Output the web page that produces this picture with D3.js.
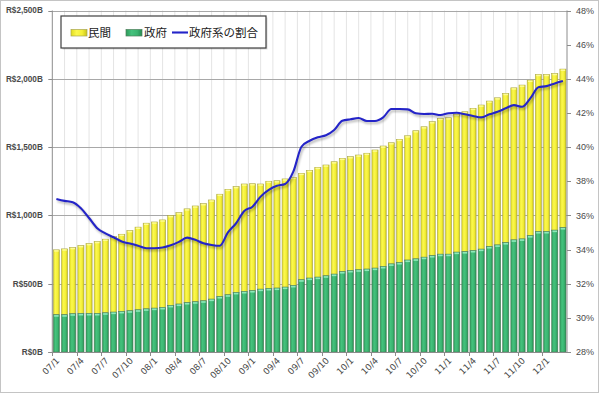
<!DOCTYPE html>
<html lang="ja">
<head>
<meta charset="UTF-8">
<title>民間・政府</title>
<script src="https://d3js.org/d3.v7.min.js"></script>
<style>
  body { margin: 0; background: #fff; }
  svg text { font-family: "Liberation Sans", Arial, sans-serif; }
</style>
</head>
<body>
<div id="chart"></div>
<script>
const width = 599;
const height = 393;

// months 2007/1 .. 2012/3
const months = [
  "07/1","07/2","07/3","07/4","07/5","07/6","07/7","07/8","07/9","07/10","07/11","07/12",
  "08/1","08/2","08/3","08/4","08/5","08/6","08/7","08/8","08/9","08/10","08/11","08/12",
  "09/1","09/2","09/3","09/4","09/5","09/6","09/7","09/8","09/9","09/10","09/11","09/12",
  "10/1","10/2","10/3","10/4","10/5","10/6","10/7","10/8","10/9","10/10","10/11","10/12",
  "11/1","11/2","11/3","11/4","11/5","11/6","11/7","11/8","11/9","11/10","11/11","11/12",
  "12/1","12/2","12/3"
];

// 政府 (R$ billion)
const government = [
  273,273,280,282,282,282,287,292,297,302,309,316,
  321,326,341,351,362,368,375,387,406,419,436,443,
  450,460,465,468,475,487,529,541,548,558,570,589,
  597,602,607,614,626,645,655,673,682,694,706,716,
  716,731,735,743,753,772,784,801,821,828,852,882,
  882,892,911
];

// 民間 (R$ billion)
const privateSector = [
  475,482,485,497,512,527,539,553,565,587,605,627,
  631,641,658,669,686,701,711,726,749,772,775,787,
  782,770,785,786,792,792,779,789,804,811,823,829,
  833,840,848,865,882,887,902,910,938,955,980,995,
  999,1009,1024,1041,1055,1065,1077,1092,1113,1126,1138,1150,
  1150,1147,1160
];

// 政府系の割合 (%)
const govShare = [
  36.96,36.85,36.77,36.42,35.85,35.25,34.95,34.72,34.47,34.35,34.22,34.08,
  34.08,34.12,34.25,34.45,34.70,34.57,34.37,34.27,34.22,35.00,35.54,36.26,
  36.51,37.10,37.49,37.73,37.84,38.56,40.02,40.37,40.57,40.69,41.00,41.54,
  41.63,41.70,41.53,41.53,41.74,42.23,42.23,42.21,41.98,41.94,41.95,41.88,
  41.98,42.01,41.92,41.82,41.74,41.92,42.07,42.27,42.46,42.36,42.85,43.50,
  43.57,43.73,43.87
];

const leftTicks = [0, 500, 1000, 1500, 2000, 2500];
const rightTicks = [28, 30, 32, 34, 36, 38, 40, 42, 44, 46, 48];
const labelMonths = ["1", "4", "7", "10"];

const margin = {top: 10.5, right: 32, bottom: 41, left: 52.3};
const x0 = margin.left, x1 = width - margin.right;
const y0 = height - margin.bottom, y1 = margin.top;

const data = months.map((m, i) => ({
  month: m,
  gov: government[i],
  priv: privateSector[i],
  share: govShare[i]
}));

const x = d3.scaleBand().domain(months).range([x0, x1])
  .paddingInner(0.25).paddingOuter(0.125);
const y = d3.scaleLinear().domain([0, 2500]).range([y0, y1]);
const y2 = d3.scaleLinear().domain([28, 48]).range([y0, y1]);

const svg = d3.select("#chart").append("svg")
  .attr("width", width)
  .attr("height", height);

// gradients for the bars
const defs = svg.append("defs");
function hGrad(id, stops) {
  const g = defs.append("linearGradient").attr("id", id)
    .attr("x1", "0%").attr("x2", "100%").attr("y1", "0%").attr("y2", "0%");
  stops.forEach(s => g.append("stop").attr("offset", s[0]).attr("stop-color", s[1]));
}
hGrad("gYellow", [["0%", "#e2dc1e"], ["35%", "#fbf84e"], ["70%", "#f4ef36"], ["100%", "#c9c31a"]]);
hGrad("gGreen", [["0%", "#2c9a5a"], ["35%", "#45c27d"], ["70%", "#3bb571"], ["100%", "#268a50"]]);
defs.append("filter").attr("id", "shadow")
  .append("feGaussianBlur").attr("stdDeviation", 0.8);

// outer frame
svg.append("rect")
  .attr("x", 0.5).attr("y", 0.5)
  .attr("width", width - 1).attr("height", height - 1)
  .attr("fill", "#fff").attr("stroke", "#c4c4c4");

// light vertical gridlines
const step = x.step();
const vLines = d3.range(1, 42).map(k => x0 + k * step * 1.5);
svg.append("g").selectAll("line")
  .data(vLines).enter().append("line")
  .attr("x1", d => d).attr("x2", d => d)
  .attr("y1", y1).attr("y2", y0)
  .attr("stroke", "#e4e4e4").attr("stroke-width", 1);

// horizontal gridlines
svg.append("g").selectAll("line")
  .data(leftTicks.slice(1)).enter().append("line")
  .attr("x1", x0).attr("x2", x1)
  .attr("y1", d => Math.round(y(d)) + 0.5).attr("y2", d => Math.round(y(d)) + 0.5)
  .attr("stroke", "#a8a8a8").attr("stroke-width", 1);

// bars
const bars = svg.append("g");
const bw = x.bandwidth();

bars.selectAll(".priv")
  .data(data).enter().append("rect")
  .attr("class", "priv")
  .attr("x", d => x(d.month))
  .attr("y", d => y(d.gov + d.priv))
  .attr("width", bw)
  .attr("height", d => y(d.gov) - y(d.gov + d.priv))
  .attr("fill", "url(#gYellow)")
  .attr("stroke", "#a9a650")
  .attr("stroke-width", 0.6);

bars.selectAll(".gov")
  .data(data).enter().append("rect")
  .attr("class", "gov")
  .attr("x", d => x(d.month))
  .attr("y", d => y(d.gov))
  .attr("width", bw)
  .attr("height", d => y0 - y(d.gov))
  .attr("fill", "url(#gGreen)")
  .attr("stroke", "#4f7f5c")
  .attr("stroke-width", 0.6);

// light caps on the segment tops
bars.selectAll(".govCap")
  .data(data).enter().append("rect")
  .attr("x", d => x(d.month) + 0.8)
  .attr("y", d => y(d.gov) + 0.4)
  .attr("width", bw - 1.6)
  .attr("height", 1.6)
  .attr("fill", "#8fe8bb");

bars.selectAll(".privCap")
  .data(data).enter().append("rect")
  .attr("x", d => x(d.month) + 0.8)
  .attr("y", d => y(d.gov + d.priv) + 0.4)
  .attr("width", bw - 1.6)
  .attr("height", 1.4)
  .attr("fill", "#fdfb9a");

// axes
const axisColor = "#8c8c8c";
svg.append("line")
  .attr("x1", x0).attr("x2", x0).attr("y1", y1).attr("y2", y0)
  .attr("stroke", axisColor);
svg.append("line")
  .attr("x1", x1).attr("x2", x1).attr("y1", y1).attr("y2", y0)
  .attr("stroke", axisColor);
svg.append("line")
  .attr("x1", x0 - 4).attr("x2", x1 + 4).attr("y1", y0 + 0.5).attr("y2", y0 + 0.5)
  .attr("stroke", axisColor);

// left axis
const left = svg.append("g");
leftTicks.forEach(t => {
  left.append("line")
    .attr("x1", x0 - 4).attr("x2", x0)
    .attr("y1", Math.round(y(t)) + 0.5).attr("y2", Math.round(y(t)) + 0.5)
    .attr("stroke", axisColor);
  left.append("text")
    .attr("x", x0 - 9.5).attr("y", y(t))
    .attr("dy", "0.35em")
    .attr("text-anchor", "end")
    .attr("font-size", 8.2)
    .attr("font-weight", "bold")
    .attr("fill", "#4a4a4a")
    .text("R$" + d3.format(",")(t) + "B");
});

// right axis
const right = svg.append("g");
rightTicks.forEach(t => {
  right.append("line")
    .attr("x1", x1).attr("x2", x1 + 4)
    .attr("y1", Math.round(y2(t)) + 0.5).attr("y2", Math.round(y2(t)) + 0.5)
    .attr("stroke", axisColor);
  right.append("text")
    .attr("x", x1 + 9).attr("y", y2(t))
    .attr("dy", "0.35em")
    .attr("font-size", 9)
    .attr("fill", "#4a4a4a")
    .text(t + "%");
});

// bottom axis: ticks & labels every 3 months
const bottom = svg.append("g");
months.forEach(m => {
  if (!labelMonths.includes(m.split("/")[1])) return;
  const left = x(m) - step * x.paddingInner() / 2;
  bottom.append("line")
    .attr("x1", Math.round(left) + 0.5).attr("x2", Math.round(left) + 0.5)
    .attr("y1", y0).attr("y2", y0 + 4)
    .attr("stroke", axisColor);
  const cx = x(m) + bw / 2;
  bottom.append("text")
    .attr("transform", `translate(${cx + 1.5},${y0 + 7}) rotate(-45)`)
    .attr("text-anchor", "end")
    .attr("dy", "0.35em")
    .attr("font-size", 8.8)
    .style("font-family", '"DejaVu Sans", sans-serif')
    .attr("fill", "#4a4a4a")
    .text(m);
});

// share line with soft shadow
const line = d3.line()
  .x(d => x(d.month) + bw / 2)
  .y(d => y2(d.share))
  .curve(d3.curveMonotoneX);

svg.append("path")
  .datum(data)
  .attr("d", line)
  .attr("transform", "translate(1.2,2)")
  .attr("fill", "none")
  .attr("stroke", "rgba(0,0,0,0.28)")
  .attr("stroke-width", 2.2)
  .attr("filter", "url(#shadow)");

svg.append("path")
  .datum(data)
  .attr("d", line)
  .attr("fill", "none")
  .attr("stroke", "#2424c8")
  .attr("stroke-width", 2.1)
  .attr("stroke-linejoin", "round");

// legend
const legend = svg.append("g").attr("transform", "translate(61,16)");
legend.append("rect")
  .attr("x", 1.5).attr("y", 1.5).attr("width", 205).attr("height", 32)
  .attr("fill", "rgba(0,0,0,0.15)");
legend.append("rect")
  .attr("x", 0).attr("y", 0).attr("width", 205).attr("height", 32)
  .attr("fill", "#fff").attr("stroke", "#404040").attr("stroke-width", 1.2);

const cjk = '"Noto Sans CJK JP", "Noto Sans", sans-serif';
legend.append("rect")
  .attr("x", 10).attr("y", 13.5).attr("width", 16).attr("height", 6.5)
  .attr("fill", "url(#gYellow)").attr("stroke", "#a9a650").attr("stroke-width", 0.7);
legend.append("text")
  .attr("x", 27).attr("y", 16.5).attr("dy", "0.35em")
  .attr("font-size", 11.5).style("font-family", cjk).attr("fill", "#222")
  .text("民間");
legend.append("rect")
  .attr("x", 65).attr("y", 13.5).attr("width", 16).attr("height", 6.5)
  .attr("fill", "url(#gGreen)").attr("stroke", "#4f7f5c").attr("stroke-width", 0.7);
legend.append("text")
  .attr("x", 83).attr("y", 16.5).attr("dy", "0.35em")
  .attr("font-size", 11.5).style("font-family", cjk).attr("fill", "#222")
  .text("政府");
legend.append("line")
  .attr("x1", 111).attr("x2", 127).attr("y1", 16.5).attr("y2", 16.5)
  .attr("stroke", "#2424c8").attr("stroke-width", 2.1);
legend.append("text")
  .attr("x", 128).attr("y", 16.5).attr("dy", "0.35em")
  .attr("font-size", 11.5).style("font-family", cjk).attr("fill", "#222")
  .text("政府系の割合");
</script>
</body>
</html>
